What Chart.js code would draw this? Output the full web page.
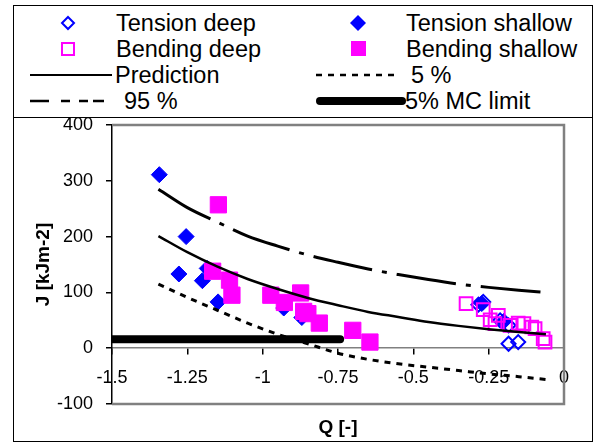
<!DOCTYPE html>
<html><head><meta charset="utf-8">
<script src="https://cdn.jsdelivr.net/npm/chart.js@4"></script>
<style>
html,body{margin:0;padding:0;background:#fff;width:594px;height:446px;overflow:hidden;font-family:"Liberation Sans",Arial,sans-serif;}
#wrap{position:relative;width:594px;height:446px;}
#c{position:absolute;left:0;top:0;}
.box{position:absolute;border:1px solid #000;box-sizing:border-box;}
.lt{position:absolute;font-size:23.5px;line-height:26px;white-space:nowrap;color:#000;}
svg.lg{position:absolute;left:0;top:0;}
</style></head>
<body><div id="wrap">
<div class="box" style="left:13px;top:5px;width:580px;height:113px;"></div>
<div class="box" style="left:13px;top:117px;width:580px;height:325px;"></div>
<svg class="lg" width="594" height="120">
  <polygon points="68,17 74,23 68,29 62,23" fill="none" stroke="#0000FF" stroke-width="2"/>
  <polygon points="358,15 366,23 358,31 350,23" fill="#0000FF"/>
  <rect x="62" y="43" width="12" height="12" fill="none" stroke="#FF00FF" stroke-width="2"/>
  <rect x="351" y="41" width="15" height="15" fill="#FF00FF"/>
  <line x1="30" y1="75" x2="112" y2="75" stroke="#000" stroke-width="2"/>
  <line x1="316" y1="75" x2="398" y2="75" stroke="#000" stroke-width="2.5" stroke-dasharray="6,6"/>
  <line x1="30" y1="101" x2="104" y2="101" stroke="#000" stroke-width="2.5" stroke-dasharray="19,12,9,9,9,5"/>
  <line x1="320" y1="101" x2="402" y2="101" stroke="#000" stroke-width="8" stroke-linecap="round"/>
</svg>
<div class="lt" style="left:116px;top:10px;">Tension deep</div>
<div class="lt" style="left:406px;top:10px;">Tension shallow</div>
<div class="lt" style="left:116px;top:36px;">Bending deep</div>
<div class="lt" style="left:406px;top:36px;">Bending shallow</div>
<div class="lt" style="left:115px;top:62px;">Prediction</div>
<div class="lt" style="left:411px;top:62px;">5 %</div>
<div class="lt" style="left:124px;top:88px;">95 %</div>
<div class="lt" style="left:405px;top:88px;">5% MC limit</div>
<canvas id="c" width="594" height="446"></canvas>
</div>
<script>
// ---- data ----
const xTickLabels = ['-1.5', '-1.25', '-1', '-0.75', '-0.5', '-0.25', '0'];
const yTickLabels = ['-100', '0', '100', '200', '300', '400'];

const tensionDeepQ = [-0.268, -0.284, -0.212, -0.184, -0.184, -0.152];
const tensionDeepJ = [83, 78, 50, 41, 8, 11];

const tensionShallowQ = [-1.343, -1.254, -1.278, -1.200, -1.184, -1.148, -0.930, -0.870, -0.273, -0.200];
const tensionShallowJ = [311, 200, 133, 121, 143, 83, 72, 55, 80, 48];

const bendingDeepQ = [-0.325, -0.268, -0.245, -0.218, -0.229, -0.179, -0.152, -0.133, -0.107, -0.096, -0.069, -0.063];
const bendingDeepJ = [80, 69, 51, 59, 44, 41, 45, 44, 38, 35, 17, 11];

const bendingShallowQ = [-1.147, -1.166, -1.110, -1.102, -0.973, -0.928, -0.874, -0.864, -0.850, -0.812, -0.701, -0.644];
const bendingShallowJ = [257, 138, 122, 95, 95, 82, 99, 66, 62, 45, 32, 11];

const curveQ = [-1.346, -1.25, -1.15, -1.05, -0.95, -0.85, -0.75, -0.65, -0.55, -0.45, -0.35, -0.25, -0.15, -0.06];
const predictionJ = [201, 172, 146, 124, 106, 90, 77, 65, 56, 47, 40, 34, 29, 25];
const p5J = [115, 91, 68, 45, 25, 8, -9, -20, -28, -34, -40, -46, -51, -56];
const p95J = [285, 252, 226, 201, 183, 167, 154, 142, 132, 123, 115, 109, 104, 100];

const mcLimitQ = [-1.5, -0.743];
const mcLimitJ = [16, 16];

const pts = (xs, ys) => xs.map((x, i) => ({x: x, y: ys[i]}));

const FONT = '"Liberation Sans", Arial, sans-serif';

const plotFrame = {
  id: 'plotFrame',
  beforeDatasetsDraw(chart) {
    const a = chart.chartArea, ctx = chart.ctx;
    ctx.save();
    ctx.strokeStyle = '#808080';
    ctx.lineWidth = 2.5;
    ctx.beginPath();
    ctx.moveTo(a.left, a.top);
    ctx.lineTo(a.right, a.top);
    ctx.lineTo(a.right, a.bottom);
    ctx.lineTo(a.left, a.bottom);
    ctx.stroke();
    ctx.restore();
  }
};

new Chart(document.getElementById('c'), {
  type: 'scatter',
  data: {
    datasets: [
      {label: 'Tension deep', data: pts(tensionDeepQ, tensionDeepJ), pointStyle: 'rectRot', pointRadius: 7,
       backgroundColor: 'rgba(0,0,0,0)', borderColor: '#0000FF', borderWidth: 2, order: 8},
      {label: 'Tension shallow', data: pts(tensionShallowQ, tensionShallowJ), pointStyle: 'rectRot', pointRadius: 8,
       backgroundColor: '#0000FF', borderColor: '#0000FF', borderWidth: 1, order: 7},
      {label: 'Bending deep', data: pts(bendingDeepQ, bendingDeepJ), pointStyle: 'rect', pointRadius: 9,
       backgroundColor: 'rgba(0,0,0,0)', borderColor: '#FF00FF', borderWidth: 2, order: 6},
      {label: 'Bending shallow', data: pts(bendingShallowQ, bendingShallowJ), pointStyle: 'rect', pointRadius: 11.5,
       backgroundColor: '#FF00FF', borderColor: '#FF00FF', borderWidth: 1, order: 5},
      {label: 'Prediction', data: pts(curveQ, predictionJ), showLine: true, pointRadius: 0,
       borderColor: '#000', borderWidth: 2.5, cubicInterpolationMode: 'monotone', order: 4},
      {label: '5 %', data: pts(curveQ, p5J), showLine: true, pointRadius: 0, borderDash: [6, 6],
       borderColor: '#000', borderWidth: 3, cubicInterpolationMode: 'monotone', order: 3},
      {label: '95 %', data: pts(curveQ, p95J), showLine: true, pointRadius: 0, borderDash: [60, 10, 5, 10],
       borderColor: '#000', borderWidth: 3, cubicInterpolationMode: 'monotone', order: 2},
      {label: '5% MC limit', data: pts(mcLimitQ, mcLimitJ), showLine: true, pointRadius: 0,
       borderColor: '#000', borderWidth: 8, borderCapStyle: 'round', clip: 0, order: 1}
    ]
  },
  options: {
    responsive: false,
    animation: false,
    events: [],
    layout: {padding: {left: 14, top: 125, right: 30, bottom: 0}},
    plugins: {legend: {display: false}, tooltip: {enabled: false}},
    scales: {
      x: {
        type: 'linear', min: -1.5, max: 0, position: {y: 0},
        afterBuildTicks(s) { s.ticks = xTickLabels.map(t => ({value: parseFloat(t)})); },
        ticks: {stepSize: 0.25, color: '#000', font: {family: FONT, size: 18}, padding: 13,
                maxRotation: 0, autoSkip: false,
                callback: (v, i) => xTickLabels[i]},
        grid: {drawOnChartArea: false, drawTicks: true, tickLength: 6, color: '#000', lineWidth: 1.5},
        border: {display: true, color: '#808080', width: 1.5}
      },
      xTitle: {
        type: 'linear', axis: 'x', min: -1.5, max: 0, position: 'bottom',
        afterFit(s) { s.height = 42; },
        ticks: {display: false},
        grid: {display: false, drawTicks: false},
        border: {display: false},
        title: {display: true, text: 'Q [-]', color: '#000', font: {family: FONT, size: 19, weight: 'bold'},
                padding: {top: 0, bottom: 7}}
      },
      y: {
        type: 'linear', min: -100, max: 400, position: 'left',
        afterBuildTicks(s) { s.ticks = yTickLabels.map(t => ({value: parseFloat(t)})); },
        afterFit(s) { s.width = 98; },
        ticks: {stepSize: 100, color: '#000', font: {family: FONT, size: 18}, padding: 13,
                callback: (v, i) => yTickLabels[i]},
        grid: {drawOnChartArea: false, drawTicks: true, tickLength: 6, color: '#000', lineWidth: 1.5},
        border: {display: true, color: '#000', width: 1.5},
        title: {display: true, text: 'J [kJm-2]', color: '#000', font: {family: FONT, size: 19, weight: 'bold'},
                padding: {top: 18, bottom: 0}}
      }
    }
  },
  plugins: [plotFrame]
});
</script>
</body></html>
